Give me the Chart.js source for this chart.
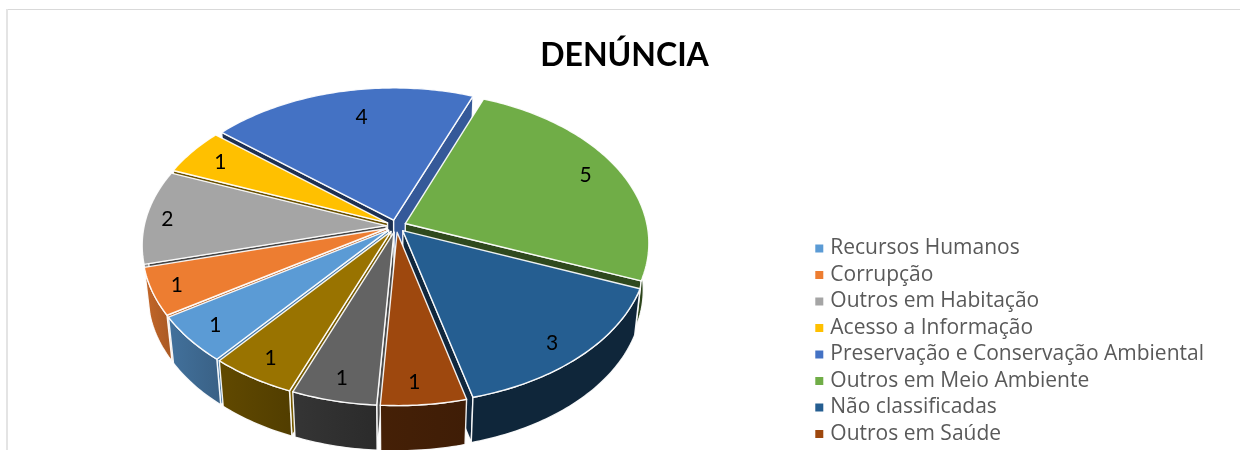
<!DOCTYPE html>
<html lang="pt">
<head>
<meta charset="utf-8">
<title>Denúncia</title>
<script src="https://cdn.jsdelivr.net/npm/chart.js@4"></script>
<style>
  html, body { margin: 0; background: #fff; }
  canvas { display: block; }
</style>
</head>
<body>
<canvas id="denunciaChart" width="1240" height="450"></canvas>
<script>
// the last two legend entries are cut off by the bottom of the reference, names unreadable
const categories = [
  'Recursos Humanos', 'Corrupção', 'Outros em Habitação', 'Acesso a Informação',
  'Preservação e Conservação Ambiental', 'Outros em Meio Ambiente', 'Não classificadas',
  'Outros em Saúde', '', ''
];
const values = [1, 1, 2, 1, 4, 5, 3, 1, 1, 1];
const sliceColors = [
  '#5b9bd5', '#ed7d31', '#a5a5a5', '#ffc000', '#4472c4',
  '#70ad47', '#255e91', '#9e480e', '#636363', '#997300'
];
// excel does not put the labels exactly on the bisector
const labelTurn = [0, 0, -1, 0, 3.5, 0, 2, 1.4, 0, 0];
const labelReach = [0.88, 0.9, 0.91, 0.85, 0.77, 0.85, 0.88, 0.88, 0.88, 0.88];

// 3d view settings
const SQUASH = 0.62;
const PERSPECTIVE = 0.125;
const DEPTH = 47;
const VIEW_X = -28;
const VIEW_Y = 226;

function shade(hex, f) {
  const n = parseInt(hex.slice(1), 16);
  const r = Math.round((n >> 16 & 255) * f);
  const g = Math.round((n >> 8 & 255) * f);
  const b = Math.round((n & 255) * f);
  return `rgb(${r},${g},${b})`;
}

// clockwise degrees from the top of the pie
function clockDeg(a) {
  return ((a * 180 / Math.PI + 90) % 360 + 360) % 360;
}

function wallShade(a) {
  const t = clockDeg(a);
  if (t < 180) return 0.4;
  return Math.min(0.85, 0.42 + (t - 180) * 0.0054);
}

function sideShade(normal) {
  return normal < 150 ? 0.78 : 0.42;
}

const pie3d = {
  id: 'pie3d',
  beforeDraw(chart) {
    // thin frame of the pasted picture, top and left only
    const ctx = chart.ctx;
    ctx.save();
    ctx.fillStyle = '#d9d9d9';
    ctx.fillRect(6, 9, chart.width - 6, 1);
    ctx.fillStyle = '#e4e4e4';
    ctx.fillRect(6, 9, 2, chart.height - 9);
    ctx.restore();
  },
  beforeDatasetDraw(chart, args) {
    const ctx = chart.ctx;
    const arcs = chart.getDatasetMeta(args.index).data;
    const slices = arcs.map((arc, i) => {
      const mid = (arc.startAngle + arc.endAngle) / 2;
      return { arc, i, mid, back: Math.sin(mid) };
    });

    const point = (s, a, r, low) => {
      const R = s.arc.outerRadius;
      const d = s.arc.options.offset / R;
      const u = r * Math.cos(a) + d * Math.cos(s.mid);
      const v = r * Math.sin(a) + d * Math.sin(s.mid);
      const w = 1 - PERSPECTIVE * v;
      let x = R * u / w;
      let y = R * SQUASH * v / w;
      if (low) {
        x *= 0.978;
        y = y * 0.99 + DEPTH;
      }
      return [s.arc.x + VIEW_X + x, VIEW_Y + y];
    };

    const fillPath = (pts, fill) => {
      ctx.beginPath();
      pts.forEach((p, n) => (n ? ctx.lineTo(p[0], p[1]) : ctx.moveTo(p[0], p[1])));
      ctx.closePath();
      ctx.fillStyle = fill;
      ctx.fill();
      ctx.strokeStyle = 'rgba(255,255,255,0.92)';
      ctx.lineWidth = 1.4;
      ctx.lineJoin = 'round';
      ctx.stroke();
    };

    const arcPts = (s, from, to, low) => {
      const steps = Math.max(2, Math.ceil(Math.abs(to - from) * 60));
      const pts = [];
      for (let n = 0; n <= steps; n++) {
        pts.push(point(s, from + (to - from) * n / steps, 1, low));
      }
      return pts;
    };

    ctx.save();
    // back slices first so the front ones cover them
    slices.slice().sort((a, b) => a.back - b.back).forEach(s => {
      const start = s.arc.startAngle;
      const end = s.arc.endAngle;
      const color = sliceColors[s.i];

      // radial faces, only those turned to the viewer
      [[start, start - Math.PI / 2], [end, end + Math.PI / 2]].forEach(([a, n]) => {
        if (Math.sin(n) <= 0) return;
        fillPath([
          point(s, a, 0, false), point(s, a, 1, false),
          point(s, a, 1, true), point(s, a, 0, true)
        ], shade(color, sideShade(clockDeg(n))));
      });

      // outer wall, front half of the circle only
      const wallFrom = Math.sin(start) > 0 ? start : (Math.sin(end) > 0 ? Math.ceil(start / Math.PI) * Math.PI : null);
      if (wallFrom !== null) {
        const wallTo = Math.sin(end) > 0 ? end : Math.floor(end / Math.PI) * Math.PI;
        const upper = arcPts(s, wallFrom, wallTo, false);
        const lower = arcPts(s, wallTo, wallFrom, true);
        const g = ctx.createLinearGradient(upper[0][0], 0, upper[upper.length - 1][0], 0);
        g.addColorStop(0, shade(color, wallShade(wallFrom)));
        g.addColorStop(1, shade(color, wallShade(wallTo)));
        fillPath(upper.concat(lower), g);
      }

      // top face
      fillPath([point(s, 0, 0, false)].concat(arcPts(s, start, end, false)), color);
    });

    // value labels
    ctx.fillStyle = '#000';
    ctx.font = '21px Lato';
    ctx.textAlign = 'center';
    ctx.textBaseline = 'middle';
    slices.forEach(s => {
      const p = point(s, s.mid + labelTurn[s.i] * Math.PI / 180, labelReach[s.i], false);
      ctx.fillText(String(values[s.i]), p[0], p[1]);
    });
    ctx.restore();
    return false;
  }
};

new Chart(document.getElementById('denunciaChart'), {
  type: 'pie',
  data: {
    labels: categories,
    datasets: [{
      data: values,
      backgroundColor: sliceColors,
      offset: 10,
      radius: 242
    }]
  },
  options: {
    responsive: false,
    animation: false,
    rotation: 219.5,
    layout: { padding: { left: 35, right: 26, bottom: 0 } },
    plugins: {
      tooltip: { enabled: false },
      title: {
        display: true,
        text: 'DENÚNCIA',
        color: '#000',
        font: { family: 'Lato', size: 32, weight: 'bold' },
        padding: { top: 36, bottom: 10 }
      },
      legend: {
        position: 'right',
        align: 'end',
        labels: {
          color: '#595959',
          font: { family: 'Open Sans', size: 21 },
          usePointStyle: true,
          pointStyle: 'rect',
          boxWidth: 1,
          boxHeight: 10,
          // keep this a whole half pixel, otherwise the legend rounds over
          // its bottom edge and tries to start a second column
          padding: 5.5,
          filter: item => item.text !== ''
        }
      }
    }
  },
  plugins: [pie3d]
});
</script>
</body>
</html>
